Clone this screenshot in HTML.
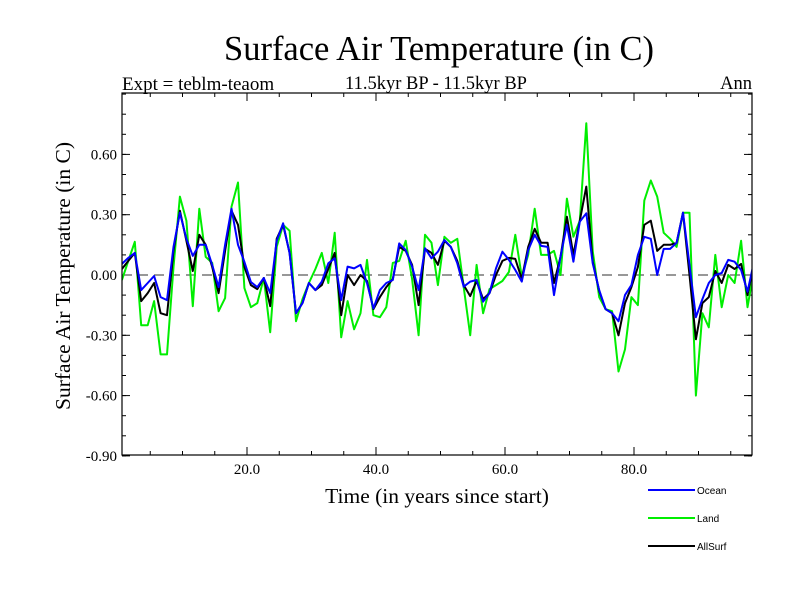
<!DOCTYPE html>
<html><head><meta charset="utf-8"><style>
body{margin:0;background:#fff;}
svg{display:block;font-family:"Liberation Serif",serif;}
</style></head><body>
<svg id="chart" width="800" height="600" viewBox="0 0 800 600">
<rect width="800" height="600" fill="#fff"/>
<text x="439" y="60" font-size="34.5" text-anchor="middle">Surface Air Temperature (in C)</text>
<text x="436" y="89" font-size="18.5" text-anchor="middle">11.5kyr BP - 11.5kyr BP</text>
<text x="122" y="90" font-size="19">Expt = teblm-teaom</text>
<text x="752" y="89" font-size="18.5" text-anchor="end">Ann</text>
<text transform="translate(70,276) rotate(-90)" font-size="21.5" text-anchor="middle">Surface Air Temperature (in C)</text>
<text x="437" y="503" font-size="21.5" text-anchor="middle">Time (in years since start)</text>
<g id="ticks"></g>
<g id="series" clip-path="url(#clip)"></g>
<defs><clipPath id="clip"><rect x="122" y="93" width="630" height="362"/></clipPath></defs>
<rect x="122" y="93" width="630" height="362" fill="none" stroke="#000" stroke-width="1.2"/>
<g font-family="Liberation Sans, sans-serif" font-size="10">
<line x1="648" y1="490" x2="695" y2="490" stroke="#0000ff" stroke-width="2"/>
<text x="697" y="494">Ocean</text>
<line x1="648" y1="518" x2="695" y2="518" stroke="#00ee00" stroke-width="2"/>
<text x="697" y="522">Land</text>
<line x1="648" y1="546" x2="695" y2="546" stroke="#000" stroke-width="2"/>
<text x="697" y="550">AllSurf</text>
</g>
</svg>
<script>
const ocean=[.055,.085,.11,-.075,-.04,-.005,-.11,-.125,.14,.31,.18,.095,.15,.15,.05,-.06,.15,.33,.15,.065,-.035,-.06,-.015,-.09,.17,.257,.108,-.19,-.14,-.04,-.075,-.033,.058,.083,-.125,.042,.033,.05,-.04,-.166,-.075,-.04,-.025,.157,.124,.042,-.075,.133,.083,.116,.174,.14,.058,-.058,-.033,-.025,-.133,-.09,.033,.116,.075,.025,-.033,.124,.2,.145,.14,-.1,.091,.25,.066,.265,.307,.058,-.075,-.17,-.19,-.23,-.1,-.05,.1,.19,.18,0,.13,.13,.16,.31,.05,-.21,-.12,-.04,0,.01,.075,.066,.025,-.083,.066];
const allsurf=[.03,.07,.11,-.13,-.09,-.04,-.19,-.2,.12,.32,.17,.02,.2,.15,.04,-.09,.12,.32,.25,.04,-.05,-.07,-.015,-.155,.18,.25,.11,-.19,-.14,-.04,-.075,-.05,.03,.11,-.2,0,-.05,0,-.03,-.17,-.11,-.06,-.02,.14,.12,.05,-.15,.13,.11,.05,.17,.14,.07,-.05,-.105,-.03,-.12,-.09,0,.07,.085,.08,-.02,.14,.23,.16,.16,-.04,.09,.29,.1,.27,.44,.067,-.08,-.17,-.19,-.3,-.14,-.06,.04,.25,.27,.12,.15,.15,.16,.31,0,-.32,-.14,-.11,.02,-.04,.05,.03,.055,-.1,.06];
const land=[-.025,.07,.165,-.25,-.25,-.13,-.395,-.395,.04,.39,.27,-.155,.33,.09,.06,-.18,-.115,.34,.46,-.065,-.16,-.14,-.015,-.285,.14,.25,.22,-.23,-.12,-.04,.03,.11,-.04,.21,-.31,-.13,-.27,-.19,.075,-.2,-.21,-.16,.06,.07,.17,-.02,-.3,.2,.16,-.05,.19,.16,.18,-.06,-.3,.05,-.19,-.07,-.05,-.03,.015,.2,-.01,.1,.33,.1,.1,.12,0,.38,.19,.27,.755,.12,-.11,-.17,-.18,-.48,-.37,-.11,-.15,.37,.47,.39,.21,.18,.14,.31,.31,-.6,-.19,-.26,.1,-.16,0,-.04,.17,-.16,.025];
const xTicks=[20,40,60,80];
const xTickLabels=["20.0","40.0","60.0","80.0"];
const yTicks=[-0.9,-0.6,-0.3,0,0.3,0.6];
const yTickLabels=["-0.90","-0.60","-0.30","0.00","0.30","0.60"];
const startYear=0.6;
const X=t=>118+(t)*6.45;
const Y=v=>275-v*201;
const NS="http://www.w3.org/2000/svg";
const ticks=document.getElementById('ticks');
const series=document.getElementById('series');
function line(p,x1,y1,x2,y2,stroke,w,dash){const l=document.createElementNS(NS,'line');l.setAttribute('x1',x1);l.setAttribute('y1',y1);l.setAttribute('x2',x2);l.setAttribute('y2',y2);l.setAttribute('stroke',stroke);l.setAttribute('stroke-width',w);if(dash)l.setAttribute('stroke-dasharray',dash);p.appendChild(l);return l;}
function text(p,x,y,s,anchor){const t=document.createElementNS(NS,'text');t.setAttribute('x',x);t.setAttribute('y',y);t.setAttribute('font-size','15');t.setAttribute('text-anchor',anchor);t.textContent=s;p.appendChild(t);return t;}
for(let v=-0.9;v<=0.91;v+=0.1){const y=Y(v);line(ticks,122,y,126,y,'#000',1);line(ticks,752,y,748,y,'#000',1);}
for(let t=5;t<98;t+=5){const x=X(t);line(ticks,x,455,x,451,'#000',1);line(ticks,x,93,x,97,'#000',1);}
yTicks.forEach((v,i)=>{const y=Y(v);
const a=line(ticks,122,y,130,y,'#000',1);
line(ticks,752,y,744,y,'#000',1);
const t=text(ticks,117,y+5,yTickLabels[i],'end');

});
xTicks.forEach((v,i)=>{const x=X(v);
const a=line(ticks,x,455,x,447,'#000',1);
line(ticks,x,93,x,101,'#000',1);
const t=text(ticks,x,474,xTickLabels[i],'middle');

});
const zl=line(series,122,Y(0),752,Y(0),'#777',1.6,'10,6');


function draw(vals,color,name){const p=document.createElementNS(NS,'polyline');
p.setAttribute('points',vals.map((v,i)=>X(startYear+i).toFixed(1)+','+Y(v).toFixed(1)).join(' '));
p.setAttribute('fill','none');p.setAttribute('stroke',color);p.setAttribute('stroke-width','2');p.setAttribute('stroke-linejoin','round');


series.appendChild(p);}
draw(land,'#00ee00','land-series');
draw(allsurf,'#000000','allsurf-series');
draw(ocean,'#0000ff','ocean-series');
</script>
</body></html>
